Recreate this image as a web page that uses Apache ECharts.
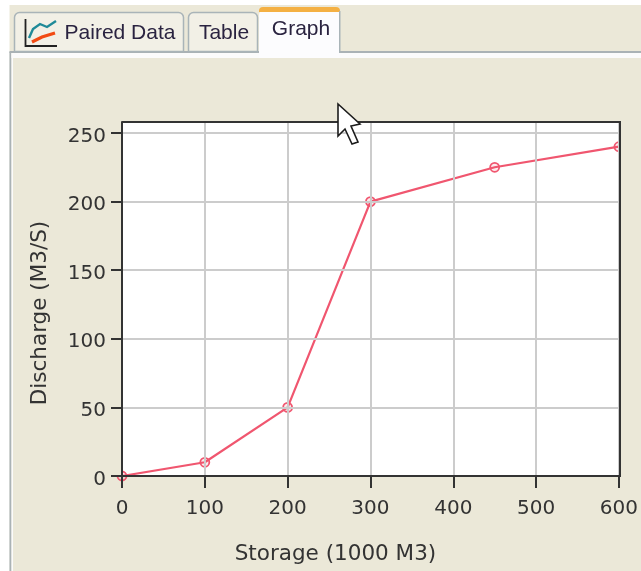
<!DOCTYPE html>
<html><head><meta charset="utf-8">
<style>html,body{margin:0;padding:0;background:#fff}#c{width:641px;height:571px}</style>
<script src="https://cdn.jsdelivr.net/npm/echarts@6/dist/echarts.min.js"></script>
</head><body><div id="c"></div>
<script>
const storage = [0, 100, 200, 300, 450, 600];
const discharge = [0, 10, 50, 200, 225, 240];
const xTitle = 'Storage (1000 M3)';
const yTitle = 'Discharge (M3/S)';
const tabs = ['Paired Data', 'Table', 'Graph'];
const FONT = '"Liberation Sans", Arial, sans-serif';
const AXFONT = '"DejaVu Sans", sans-serif';
const TXT = '#333333', BG = '#ebe8d8', RED = '#f0566f', AX = '#333333', GRID = '#cccccc';

const chart = echarts.init(document.getElementById('c'), null, {renderer:'canvas'});
const tabShape = (x,y,w,h,fill,stroke)=>({type:'rect',z:20,shape:{x,y,width:w,height:h,r:[5,5,0,0]},style:{fill,stroke,lineWidth:1.5}});
const label = (text,x,y,size)=>({type:'text',z:25,style:{text,x,y,fill:'#2a2340',font:`${size}px ${FONT}`,textAlign:'center',textVerticalAlign:'middle'}});
chart.setOption({
  animation:false,
  backgroundColor:'#ffffff',
  grid:{left:122,right:21,top:122,bottom:95,show:true,backgroundColor:'#ffffff',borderColor:'transparent',z:6},
  xAxis:{type:'value',min:0,max:600,interval:100,z:10,
    name:xTitle,nameLocation:'middle',nameGap:67,
    nameTextStyle:{color:TXT,fontFamily:AXFONT,fontSize:21.5,padding:[0,70,0,0]},
    axisLine:{show:true,onZero:false,lineStyle:{color:AX,width:2}},
    axisTick:{show:true,length:12,lineStyle:{color:AX,width:2}},
    axisLabel:{color:TXT,fontFamily:AXFONT,fontSize:20,margin:23,showMinLabel:true,showMaxLabel:true,hideOverlap:false},
    splitLine:{show:true,lineStyle:{color:GRID,width:2}}},
  yAxis:{type:'value',min:0,max:258,interval:50,z:10,
    name:yTitle,nameLocation:'middle',nameGap:71,
    nameTextStyle:{color:TXT,fontFamily:AXFONT,fontSize:21.5,padding:[0,28,0,0]},
    axisLine:{show:true,onZero:false,lineStyle:{color:AX,width:2}},
    axisTick:{show:true,length:11,lineStyle:{color:AX,width:2}},
    axisLabel:{color:TXT,fontFamily:AXFONT,fontSize:20,margin:16,verticalAlign:'top',lineHeight:7},
    splitLine:{show:true,lineStyle:{color:GRID,width:2}}},
  series:[{type:'line',z:8,clip:true,data:storage.map((s,i)=>[s,discharge[i]]),
    symbol:'circle',symbolSize:9,showAllSymbol:true,
    lineStyle:{color:RED,width:2.2},
    itemStyle:{color:'rgba(240,86,111,0.12)',borderColor:RED,borderWidth:1.8}}],
  graphic:[
    {type:'rect',z:-10,silent:true,shape:{x:0,y:5,width:641,height:566},style:{fill:BG}},
    {type:'rect',z:-9,silent:true,shape:{x:0,y:0,width:9.5,height:571},style:{fill:'#ffffff'}},
    {type:'rect',z:-8,silent:true,shape:{x:9.5,y:52,width:2,height:519},style:{fill:'#aab2b5'}},
    {type:'rect',z:-8,silent:true,shape:{x:9.5,y:51,width:631.5,height:2},style:{fill:'#aab2b5'}},
    {type:'rect',z:-8,silent:true,shape:{x:11.5,y:53,width:629.5,height:5},style:{fill:'#fbfbfb'}},
    {type:'rect',z:-8,silent:true,shape:{x:11.5,y:53,width:1.5,height:518},style:{fill:'#fbfbfb'}},
    tabShape(14.5,12.5,169,39,'#f2f0e6','#a9b4b8'),
    tabShape(188.5,12.5,69,39,'#f2f0e6','#a9b4b8'),
    {type:'rect',z:21,shape:{x:259,y:10,width:81,height:48,r:[5,5,0,0]},style:{fill:'#fcfcfe'}},
    {type:'rect',z:22,shape:{x:259,y:7,width:81,height:5,r:[4,4,0,0]},style:{fill:'#f4b043'}},
    {type:'rect',z:22,shape:{x:339,y:11,width:1.5,height:42},style:{fill:'#a9b4b8'}},
    label(tabs[0],120,33,21), label(tabs[1],224,33,21), label(tabs[2],301,29,21),
    {type:'polyline',z:25,shape:{points:[[25.5,19],[25.5,46],[57,46]]},style:{fill:null,stroke:'#222',lineWidth:1.8}},
    {type:'polyline',z:25,shape:{points:[[29,38],[33,29],[40,24],[47,27],[56,21]]},style:{fill:null,stroke:'#1f8a98',lineWidth:2.4,smooth:0.3}},
    {type:'polyline',z:25,shape:{points:[[32,42],[42,37],[55,33]]},style:{fill:null,stroke:'#f24a12',lineWidth:3.2}},
    {type:'rect',z:30,silent:true,shape:{x:122,y:121,width:498,height:2},style:{fill:AX}},
    {type:'rect',z:30,silent:true,shape:{x:619,y:121,width:2,height:356},style:{fill:AX}},
    {type:'rect',z:29,silent:true,shape:{x:621,y:123,width:20,height:353},style:{fill:BG}},
    {type:'rect',z:29,silent:true,shape:{x:114,y:466,width:7,height:9},style:{fill:BG}},
    {type:'polygon',z:40,silent:true,shape:{points:[[338,104],[338,136],[345,129],[352,144],[358,142],[351,126],[360,124]]},style:{fill:'#ffffff',stroke:'#1c1c1c',lineWidth:1.6}}
  ]
});
</script></body></html>
